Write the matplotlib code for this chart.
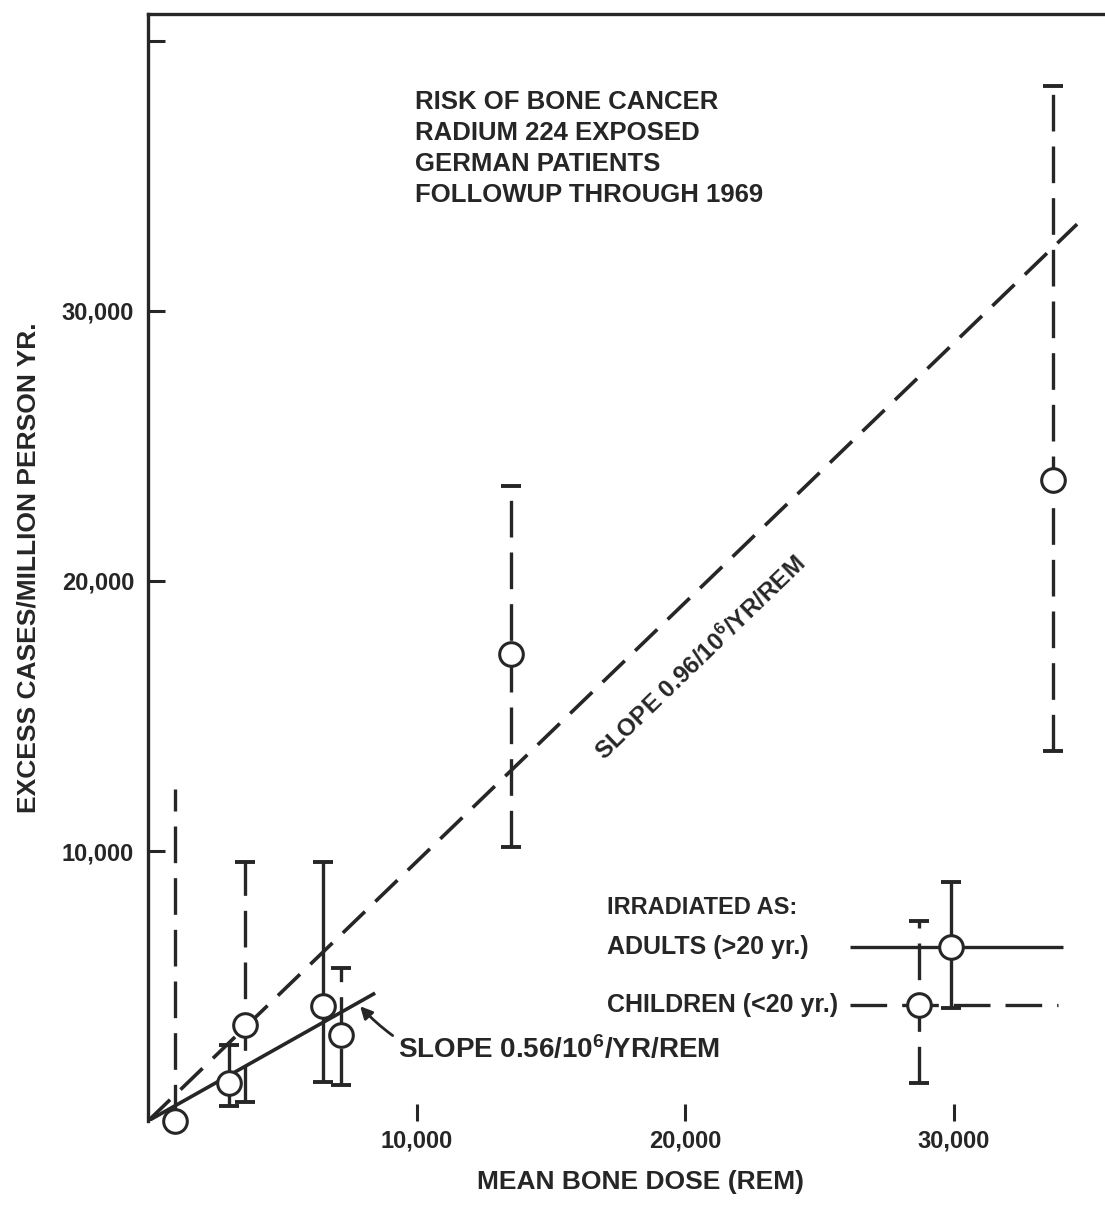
import matplotlib
matplotlib.use('Agg')
import matplotlib.pyplot as plt

plt.rcParams['font.family'] = ['Liberation Sans', 'DejaVu Sans']
plt.rcParams['font.weight'] = 'bold'
plt.rcParams['mathtext.fontset'] = 'custom'
plt.rcParams['mathtext.rm'] = 'Liberation Sans:bold'
plt.rcParams['mathtext.bf'] = 'Liberation Sans:bold'
plt.rcParams['mathtext.default'] = 'bf'

ink = '#262626'

# values (dose in REM, excess cases / million person yr)
adult_dose = [3000, 6500, 29900]
adult_rate = [1400, 4250, 6450]
adult_lo = [560, 1450, 4200]
adult_hi = [2800, 9600, 8850]

child_dose = [1000, 3600, 7200, 13500, 28700, 33700]
child_rate = [0, 3550, 3200, 17300, 4300, 23750]
child_lo = [0, 700, 1350, 10150, 1400, 13700]
child_hi = [12300, 9600, 5650, 23500, 7400, 38350]

# horizontal bars used as the key
adult_key_x = [26150, 34080]
child_key_x = [26150, 33900]

# fitted lines
adult_slope, adult_fit_end = 0.56, 8400
child_slope, child_fit_end = 0.96, 34600

title_lines = ['RISK OF BONE CANCER', 'RADIUM 224 EXPOSED',
               'GERMAN PATIENTS', 'FOLLOWUP THROUGH 1969']
yticks = [10000, 20000, 30000, 40000]
ytick_labels = ['10,000', '20,000', '30,000', '']
xticks = [10000, 20000, 30000]
xtick_labels = ['10,000', '20,000', '30,000']

fig = plt.figure(figsize=(11.05, 12.08), dpi=100)
ax = fig.add_axes([148 / 1105, 87 / 1208, 957 / 1105, 1107 / 1208])
ax.set_xlim(0, 35640)
ax.set_ylim(0, 41000)

lw = 2.6
dash = (0, (8.5, 4))
bar_dash = (0, (11, 4.5))

# fit lines
ax.plot([0, adult_fit_end], [0, adult_slope * adult_fit_end], color=ink, lw=lw, zorder=3)
ax.plot([0, child_fit_end], [0, child_slope * child_fit_end], color=ink, lw=lw,
        linestyle=dash, zorder=3)

# adults: solid error bars
err = [[r - l for r, l in zip(adult_rate, adult_lo)],
       [h - r for r, h in zip(adult_rate, adult_hi)]]
ax.errorbar(adult_dose, adult_rate, yerr=err, fmt='none', ecolor=ink,
            elinewidth=2.4, capsize=7, capthick=2.8, zorder=2)

# children: dashed error bars (first one has no cap)
err = [[r - l for r, l in zip(child_rate[1:], child_lo[1:])],
       [h - r for r, h in zip(child_rate[1:], child_hi[1:])]]
eb = ax.errorbar(child_dose[1:], child_rate[1:], yerr=err, fmt='none', ecolor=ink,
                 elinewidth=2.4, capsize=7, capthick=2.8, zorder=2)
eb[2][0].set_linestyle(bar_dash)
eb0 = ax.errorbar(child_dose[:1], child_rate[:1],
                  yerr=[[0], [child_hi[0] - child_rate[0]]], fmt='none',
                  ecolor=ink, elinewidth=2.4, capsize=0, zorder=2)
eb0[2][0].set_linestyle(bar_dash)

# key bars
ax.hlines(adult_rate[2], *adult_key_x, color=ink, lw=2.4, zorder=2)
ax.hlines(child_rate[4], *child_key_x, color=ink, lw=2.4, linestyles=[bar_dash], zorder=2)

# circles
ax.plot(adult_dose + child_dose, adult_rate + child_rate, 'o', ms=17,
        mfc='white', mec=ink, mew=2.2, zorder=5, clip_on=False)

# text
for i, line in enumerate(title_lines):
    ax.text(9940, 37740 - i * 1150, line, fontsize=18.5, color=ink, va='center')

ax.text(17100, 7920, 'IRRADIATED AS:', fontsize=17, color=ink, va='center')
ax.text(17100, adult_rate[2], 'ADULTS (>20 yr.)', fontsize=18, color=ink, va='center')
ax.text(17100, child_rate[4], 'CHILDREN (<20 yr.)', fontsize=18, color=ink, va='center')

ax.annotate('SLOPE 0.56/10$^6$/YR/REM', xy=(7900, 4250), xytext=(9300, 2640),
            fontsize=20, color=ink, va='center',
            arrowprops=dict(arrowstyle='-|>', color=ink, lw=2, mutation_scale=18,
                            connectionstyle='arc3,rad=-0.35', shrinkA=2, shrinkB=0))
ax.text(20560, 17140, 'SLOPE 0.96/10$^6$/YR/REM', fontsize=17.5, color=ink,
        rotation=44, rotation_mode='anchor', ha='center', va='center')

ax.set_xticks(xticks)
ax.set_xticklabels(xtick_labels)
ax.set_yticks(yticks)
ax.set_yticklabels(ytick_labels)
ax.tick_params(direction='in', length=12, width=2.2, color=ink, labelsize=17,
               labelcolor=ink)
ax.tick_params(axis='y', pad=10)
ax.tick_params(axis='x', pad=6)

ax.spines['right'].set_visible(False)
ax.spines['bottom'].set_visible(False)
for s in ['left', 'top']:
    ax.spines[s].set_linewidth(2.4)
    ax.spines[s].set_color(ink)

ax.set_xlabel('MEAN BONE DOSE (REM)', fontsize=19, fontweight='bold', color=ink)
ax.xaxis.set_label_coords(0.515, -0.044)
ax.set_ylabel('EXCESS CASES/MILLION PERSON YR.', fontsize=19, fontweight='bold', color=ink)
ax.yaxis.set_label_coords(-0.112, 0.5)

fig.savefig('out.png', dpi=100, facecolor='white')
